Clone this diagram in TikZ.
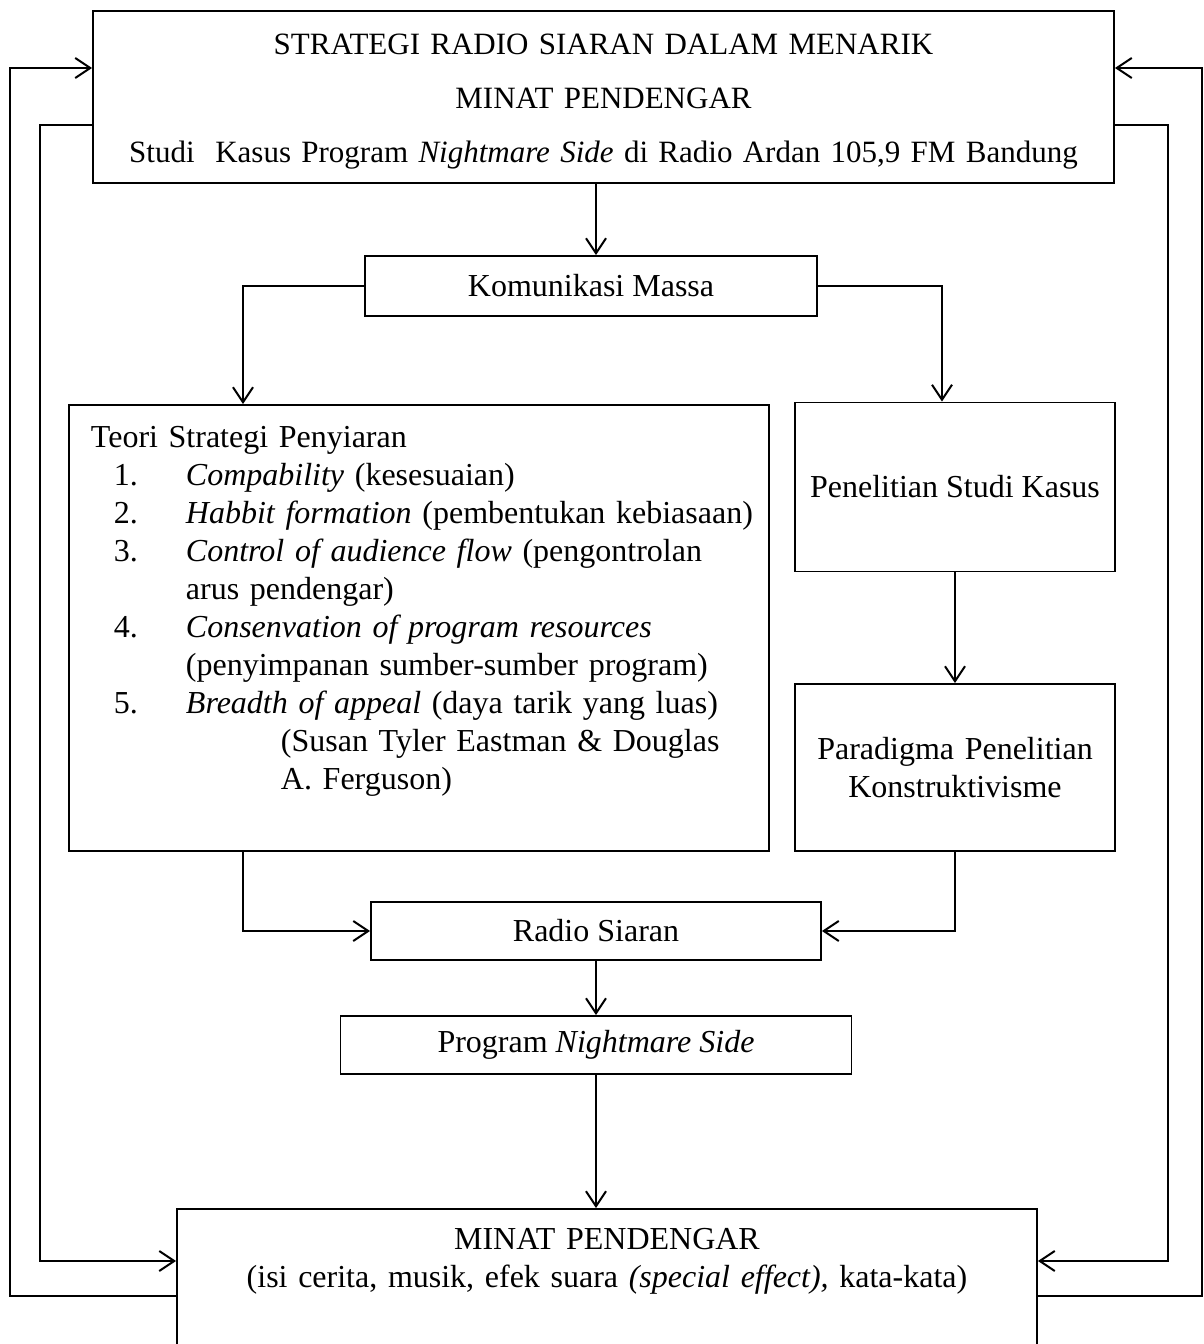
\documentclass[tikz,border=0pt]{standalone}
\usepackage{fontspec}
\setmainfont{Liberation Serif}
\usepackage{tikz}
\usetikzlibrary{arrows.meta,positioning,calc}

\begin{document}
\begin{tikzpicture}[
    x=1pt, y=-1pt,
    every node/.style={font=\fontsize{32}{38}\selectfont},
    box/.style={
      rectangle, draw, line width=1.9pt,
      inner sep=0pt, align=center
    },
    arr/.style={-{Straight Barb[length=15pt,width=20pt]}, line width=2pt}
  ]
    \useasboundingbox (0,0) rectangle (1204,1344);

    % ── Judul ──
    \node[box, anchor=north, text width=1001, inner xsep=10pt, inner ysep=22pt,
          text height=22pt, text depth=106pt,
          font=\fontsize{31}{54}\selectfont] (judul) at (603.5,10)
      {STRATEGI RADIO SIARAN DALAM MENARIK\\
       MINAT PENDENGAR\\
       Studi~ Kasus Program \textit{Nightmare Side} di Radio Ardan 105,9 FM Bandung};

    % ── Tengah ──
    \node[box, minimum width=452, minimum height=60] (komunikasi) at (591,286) {Komunikasi Massa};

    \node[box, anchor=north west, align=left, text width=680, inner xsep=10pt,
          inner ysep=21pt, text height=22pt, text depth=382pt] (teori) at (68,404)
      {\hspace*{12pt}Teori Strategi Penyiaran\\
       \hspace*{35pt}\makebox[72pt][l]{1.}\textit{Compability} (kesesuaian)\\
       \hspace*{35pt}\makebox[72pt][l]{2.}\textit{Habbit formation} (pembentukan kebiasaan)\\
       \hspace*{35pt}\makebox[72pt][l]{3.}\textit{Control of audience flow} (pengontrolan\\
       \hspace*{107pt}arus pendengar)\\
       \hspace*{35pt}\makebox[72pt][l]{4.}\textit{Consenvation of program resources}\\
       \hspace*{107pt}(penyimpanan sumber-sumber program)\\
       \hspace*{35pt}\makebox[72pt][l]{5.}\textit{Breadth of appeal} (daya tarik yang luas)\\
       \hspace*{202pt}(Susan Tyler Eastman \& Douglas\\
       \hspace*{202pt}A. Ferguson)};

    \node[box, minimum width=320, minimum height=169] (penelitian) at (955,487) {Penelitian Studi Kasus};
    \node[box, minimum width=320, minimum height=167, text width=300] (paradigma) at (955,767.5)
      {Paradigma Penelitian\\Konstruktivisme};

    \node[box, minimum width=450, minimum height=58] (radio) at (596,931) {Radio Siaran};
    \node[box, minimum width=511, minimum height=58] (program) at (596,1045) {Program \textit{Nightmare Side}};

    % ── Minat pendengar ──
    \node[box, anchor=north, text width=840, inner xsep=10pt, inner ysep=19pt,
          text height=22pt, text depth=200pt] (minat) at (607,1208)
      {MINAT PENDENGAR\\
       (isi cerita, musik, efek suara \textit{(special effect),} kata-kata)};

    % ── Titik bantu ──
    \coordinate (kiri) at (243,0);
    \coordinate (kanan) at (942,0);
    \coordinate (xa) at (10,0);
    \coordinate (xb) at (40,0);
    \coordinate (xc) at (1168,0);
    \coordinate (xd) at (1202,0);
    \coordinate (ya) at (0,68);
    \coordinate (yb) at (0,125);
    \coordinate (yc) at (0,1261);
    \coordinate (yd) at (0,1296);

    % ── Panah utama ──
    \draw[arr] (judul.south -| radio) -- (komunikasi.north -| radio);
    \draw[arr] (komunikasi.west) -| (kiri |- teori.north);
    \draw[arr] (komunikasi.east) -| (kanan |- penelitian.north);
    \draw[arr] (penelitian.south) -- (paradigma.north);
    \draw[arr] (kiri |- teori.south) |- (radio.west);
    \draw[arr] (paradigma.south) |- (radio.east);
    \draw[arr] (radio.south) -- (program.north);
    \draw[arr] (program.south) -- (program.south |- minat.north);

    % ── Panah umpan balik ──
    \draw[arr] (minat.west |- yd) -| (xa |- ya) -- (judul.west |- ya);
    \draw[arr] (judul.west |- yb) -| (xb |- yc) -- (minat.west |- yc);
    \draw[arr] (minat.east |- yd) -| (xd |- ya) -- (judul.east |- ya);
    \draw[arr] (judul.east |- yb) -| (xc |- yc) -- (minat.east |- yc);

  \end{tikzpicture}
\end{document}
